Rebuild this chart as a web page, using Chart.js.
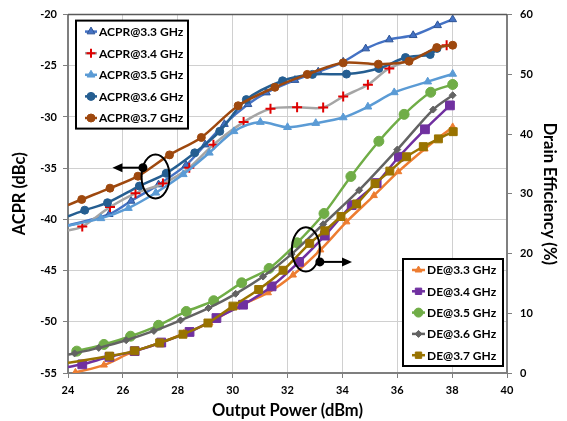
<!DOCTYPE html>
<html>
<head>
<meta charset="utf-8">
<script src="https://cdn.jsdelivr.net/npm/chart.js@4/dist/chart.umd.min.js"></script>
<style>
  html, body { margin: 0; padding: 0; background: #ffffff; }
  #wrap { width: 567px; height: 421px; position: relative; }
</style>
</head>
<body>
<div id="wrap"><canvas id="c" width="567" height="421"></canvas></div>
<script>
// ---- Axis ranges ----
const poutRange = [24, 40];
const acprRange = [-55, -20];
const deRange = [0, 60];

// ---- ACPR (dBc) versus output power (dBm) ----
const acpr33Pout = [24.0, 25.5, 26.3, 27.3, 28.3, 29.0, 29.7, 30.56, 31.23, 32.27, 33.12, 34.03, 34.85, 35.71, 36.58, 37.47, 38.02];
const acpr33 = [-40.6, -39.5, -38.2, -36.6, -34.7, -32.7, -30.7, -28.76, -27.62, -26.4, -25.58, -24.61, -23.32, -22.44, -22.02, -21.05, -20.47];

const acpr34Pout = [24.0, 24.52, 25.53, 26.46, 27.46, 28.42, 29.3, 30.4, 31.38, 32.35, 33.3, 34.03, 34.93, 35.71, 37.8];
const acpr34 = [-41.1, -40.7, -38.8, -37.45, -36.5, -34.95, -32.7, -30.5, -29.2, -29.05, -29.08, -28.0, -26.85, -25.26, -23.0];

const acpr35Pout = [24.0, 25.2, 26.2, 27.2, 28.2, 29.15, 30.05, 31.01, 32.0, 33.03, 34.03, 34.93, 35.89, 37.11, 38.02];
const acpr35 = [-40.6, -39.9, -38.9, -37.4, -35.6, -33.5, -31.4, -30.5, -31.0, -30.6, -30.05, -29.0, -27.6, -26.55, -25.8];

const acpr36Pout = [24.0, 24.61, 25.44, 26.6, 27.58, 28.62, 29.53, 30.5, 31.82, 32.91, 34.15, 35.33, 36.3, 37.2, 37.45];
const acpr36 = [-39.7, -39.1, -38.37, -36.75, -35.5, -33.5, -31.4, -28.3, -26.46, -25.84, -25.81, -25.26, -24.19, -23.9, -23.3];

const acpr37Pout = [24.0, 24.5, 25.53, 26.55, 27.7, 28.86, 30.2, 31.54, 32.72, 34.03, 35.31, 36.43, 37.44, 38.02];
const acpr37 = [-38.6, -38.05, -36.95, -35.78, -33.7, -32.0, -28.9, -27.1, -25.84, -24.71, -24.84, -24.55, -23.22, -22.99];

// ---- Drain efficiency (%) versus output power (dBm) ----
const de33Pout = [24.27, 25.31, 26.31, 27.3, 28.22, 29.16, 30.14, 31.29, 32.2, 33.2, 34.15, 35.15, 36.04, 37.0, 38.02];
const de33 = [0.1, 1.33, 3.44, 4.94, 6.6, 8.37, 11.03, 13.43, 16.4, 20.6, 25.3, 29.7, 33.7, 37.5, 41.2];

const de34Pout = [24.0, 24.52, 25.51, 26.43, 27.4, 28.43, 29.41, 30.38, 31.42, 32.42, 33.36, 34.34, 35.25, 36.06, 37.01, 37.92];
const de34 = [1.0, 1.45, 2.7, 3.66, 5.1, 6.87, 9.2, 11.43, 14.5, 18.6, 23.0, 28.1, 31.8, 36.2, 40.8, 44.8];

const de35Pout = [24.32, 25.31, 26.28, 27.3, 28.31, 29.31, 30.33, 31.33, 32.35, 33.33, 34.31, 35.33, 36.25, 37.22, 38.02];
const de35 = [3.66, 4.78, 6.16, 7.99, 10.3, 12.1, 15.1, 17.5, 21.8, 26.7, 32.9, 38.8, 43.3, 47.0, 48.3];

const de36Pout = [24.0, 24.24, 25.12, 26.12, 27.13, 28.1, 29.12, 30.11, 31.11, 32.15, 33.3, 34.61, 36.0, 37.31, 38.02];
const de36 = [3.1, 3.28, 4.2, 5.49, 7.04, 8.82, 10.87, 13.26, 16.14, 19.9, 24.9, 30.6, 37.4, 44.1, 46.5];

const de37Pout = [24.0, 25.51, 26.43, 27.34, 28.19, 29.1, 30.01, 30.95, 31.84, 32.81, 33.36, 33.95, 34.52, 35.19, 35.73, 36.34, 36.95, 37.5, 38.04];
const de37 = [1.7, 2.83, 3.71, 5.04, 6.49, 8.37, 11.2, 13.98, 17.2, 21.7, 23.8, 26.2, 28.3, 31.7, 33.8, 36.2, 37.9, 39.2, 40.4];

// ---- Series labels ----
const acprLabels = ['ACPR@3.3 GHz', 'ACPR@3.4 GHz', 'ACPR@3.5 GHz', 'ACPR@3.6 GHz', 'ACPR@3.7 GHz'];
const deLabels = ['DE@3.3 GHz', 'DE@3.4 GHz', 'DE@3.5 GHz', 'DE@3.6 GHz', 'DE@3.7 GHz'];

const FONT = 'Lato, "Open Sans", "Liberation Sans", sans-serif';

function pts(xs, ys) { return xs.map((x, i) => ({ x: x, y: ys[i] })); }

// line colour, marker style, marker fill, marker border, radius
const acprStyles = [
  { line: '#4472C4', style: 'triangle', fill: '#4472C4', border: '#2F5597', r: 4.5, bw: 1 },
  { line: '#A5A5A5', style: 'cross',    fill: '#E00000', border: '#E00000', r: 5,   bw: 2 },
  { line: '#5B9BD5', style: 'triangle', fill: '#5B9BD5', border: '#5B9BD5', r: 4.5, bw: 1 },
  { line: '#255E91', style: 'circle',   fill: '#255E91', border: '#255E91', r: 4,   bw: 1 },
  { line: '#9E480E', style: 'circle',   fill: '#9E480E', border: '#9E480E', r: 4,   bw: 1 }
];
const deStyles = [
  { line: '#ED7D31', style: 'triangle', fill: '#ED7D31', border: '#ED7D31', r: 4,   bw: 1 },
  { line: '#7030A0', style: 'rect',     fill: '#7030A0', border: '#7030A0', r: 6.2, bw: 1 },
  { line: '#70AD47', style: 'circle',   fill: '#70AD47', border: '#70AD47', r: 5,   bw: 1 },
  { line: '#636363', style: 'rectRot',  fill: '#636363', border: '#636363', r: 3.5, bw: 1 },
  { line: '#997300', style: 'rect',     fill: '#997300', border: '#997300', r: 5.6, bw: 1 }
];

const acprSeries = [pts(acpr33Pout, acpr33), pts(acpr34Pout, acpr34), pts(acpr35Pout, acpr35), pts(acpr36Pout, acpr36), pts(acpr37Pout, acpr37)];
const deSeries = [pts(de33Pout, de33), pts(de34Pout, de34), pts(de35Pout, de35), pts(de36Pout, de36), pts(de37Pout, de37)];

function makeDataset(label, data, st, axis, order) {
  return {
    label: label,
    data: data,
    yAxisID: axis,
    borderColor: st.line,
    backgroundColor: st.fill,
    borderWidth: 2.5,
    tension: 0.3,
    pointStyle: st.style,
    // points that sit on the left axis edge are line starts only
    pointRadius: (ctx) => (ctx.raw && ctx.raw.x <= poutRange[0] ? 0 : st.r),
    pointHoverRadius: 0,
    pointBackgroundColor: st.fill,
    pointBorderColor: st.border,
    pointBorderWidth: st.bw,
    order: order
  };
}

const datasets = [];
acprSeries.forEach((d, i) => datasets.push(makeDataset(acprLabels[i], d, acprStyles[i], 'yAcpr', 20 - i)));
deSeries.forEach((d, i) => datasets.push(makeDataset(deLabels[i], d, deStyles[i], 'yDe', 10 - i)));

function drawMarker(ctx, st, x, y) {
  ctx.save();
  ctx.fillStyle = st.fill;
  ctx.strokeStyle = st.border;
  ctx.lineWidth = st.bw;
  Chart.helpers.drawPoint(ctx, { pointStyle: st.style, radius: st.r, rotation: 0, borderWidth: st.bw }, x, y);
  ctx.restore();
}

function drawLegendBox(ctx, left, top, w, h, labels, styles, rowGap, sampleLen) {
  ctx.save();
  ctx.fillStyle = '#ffffff';
  ctx.fillRect(left, top, w, h);
  ctx.strokeStyle = '#000000';
  ctx.lineWidth = 2;
  ctx.strokeRect(left, top, w, h);
  ctx.font = 'bold 12px ' + FONT;
  ctx.textBaseline = 'middle';
  ctx.textAlign = 'left';
  labels.forEach((lab, i) => {
    const y = top + 11 + i * rowGap;
    const x0 = left + 9;
    const st = styles[i];
    ctx.strokeStyle = st.line;
    ctx.lineWidth = 2.5;
    ctx.beginPath();
    ctx.moveTo(x0, y);
    ctx.lineTo(x0 + sampleLen, y);
    ctx.stroke();
    drawMarker(ctx, Object.assign({}, st, { r: Math.min(st.r, 4.5) }), x0 + sampleLen / 2, y);
    ctx.fillStyle = '#000000';
    ctx.fillText(lab, x0 + sampleLen + 2, y + 0.5);
  });
  ctx.restore();
}

function drawArrow(ctx, x1, y, x2) {
  const dir = Math.sign(x2 - x1);
  ctx.beginPath();
  ctx.moveTo(x1, y);
  ctx.lineTo(x2 - dir * 8, y);
  ctx.stroke();
  ctx.beginPath();
  ctx.moveTo(x2, y);
  ctx.lineTo(x2 - dir * 10, y - 4.5);
  ctx.lineTo(x2 - dir * 10, y + 4.5);
  ctx.closePath();
  ctx.fill();
}

const decorations = {
  id: 'decorations',
  afterDatasetsDraw(chart) {
    const { ctx, chartArea: a, scales } = chart;
    const sx = scales.x, sa = scales.yAcpr, sd = scales.yDe;

    ctx.save();
    // plot frame
    ctx.strokeStyle = '#595959';
    ctx.lineWidth = 1.5;
    ctx.beginPath();
    ctx.moveTo(a.left, a.top);
    ctx.lineTo(a.right, a.top);
    ctx.stroke();

    ctx.strokeStyle = '#000000';
    ctx.fillStyle = '#000000';
    ctx.lineWidth = 2;

    // ACPR group marker: ellipse, dot and arrow to the left axis
    const e1x = sx.getPixelForValue(27.19), e1y = sa.getPixelForValue(-35.8);
    const e1rx = sx.getPixelForValue(27.19 + 0.51) - e1x;
    const e1ry = sa.getPixelForValue(-35.8 - 2.15) - e1y;
    ctx.beginPath();
    ctx.ellipse(e1x, e1y, e1rx, e1ry, 0, 0, Math.PI * 2);
    ctx.stroke();
    const d1x = sx.getPixelForValue(26.73), d1y = sa.getPixelForValue(-34.95);
    ctx.beginPath(); ctx.arc(d1x, d1y, 4.5, 0, Math.PI * 2); ctx.fill();
    drawArrow(ctx, d1x, d1y, sx.getPixelForValue(25.62));

    // DE group marker: ellipse, dot and arrow to the right axis
    const e2x = sx.getPixelForValue(32.67), e2y = sd.getPixelForValue(20.7);
    const e2rx = sx.getPixelForValue(32.67 + 0.51) - e2x;
    const e2ry = sd.getPixelForValue(20.7 - 3.7) - e2y;
    ctx.beginPath();
    ctx.ellipse(e2x, e2y, e2rx, e2ry, 0, 0, Math.PI * 2);
    ctx.stroke();
    const d2x = sx.getPixelForValue(33.18), d2y = sd.getPixelForValue(18.6);
    ctx.beginPath(); ctx.arc(d2x, d2y, 4.5, 0, Math.PI * 2); ctx.fill();
    drawArrow(ctx, d2x, d2y, sx.getPixelForValue(34.35));
    ctx.restore();

    // legends
    drawLegendBox(ctx, a.left + 8, a.top + 6, 112, 108, acprLabels, acprStyles, 21.6, 12);
    drawLegendBox(ctx, a.right - 104, a.bottom - 114, 100, 107, deLabels, deStyles, 21.3, 13);
  }
};

const tickFont = { family: FONT, size: 11, weight: 'bold' };
const titleFont = { family: FONT, size: 16.5, weight: 'bold', lineHeight: 1.2 };

new Chart(document.getElementById('c'), {
  type: 'line',
  data: { datasets: datasets },
  plugins: [decorations],
  options: {
    responsive: false,
    animation: false,
    events: [],
    layout: { padding: { top: 12, left: 0, right: 0, bottom: 0 } },
    plugins: { legend: { display: false }, tooltip: { enabled: false } },
    scales: {
      x: {
        type: 'linear',
        min: poutRange[0], max: poutRange[1],
        ticks: { stepSize: 2, color: '#000000', font: tickFont, padding: 6 },
        grid: { color: '#d0d0d0', borderDash: [3, 3], tickLength: 5, tickColor: '#7f7f7f', tickBorderDash: [] },
        border: { display: true, color: '#7f7f7f', width: 2, dash: [] },
        title: { display: true, text: 'Output Power (dBm)', color: '#000000', font: titleFont, padding: { top: 0, bottom: 0 } },
        afterFit(scale) { scale.height = 48; }
      },
      yAcpr: {
        type: 'linear', position: 'left',
        min: acprRange[0], max: acprRange[1],
        ticks: { stepSize: 5, color: '#000000', font: tickFont, padding: 6 },
        grid: { color: '#d0d0d0', borderDash: [3, 3], tickLength: 5, tickColor: '#7f7f7f', tickBorderDash: [] },
        border: { display: true, color: '#7f7f7f', width: 2 },
        title: { display: true, text: 'ACPR (dBc)', color: '#000000', font: titleFont, padding: { top: 10, bottom: 0 } },
        afterFit(scale) { scale.width = 68; }
      },
      yDe: {
        type: 'linear', position: 'right',
        min: deRange[0], max: deRange[1],
        ticks: { stepSize: 10, color: '#000000', font: tickFont, padding: 8 },
        grid: { drawOnChartArea: false, tickLength: 5, tickColor: '#7f7f7f' },
        border: { display: true, color: '#7f7f7f', width: 2 },
        title: { display: true, text: 'Drain Efficiency (%)', color: '#000000', font: titleFont, padding: { top: 8, bottom: 0 } },
        afterFit(scale) { scale.width = 60; }
      }
    }
  }
});
</script>
</body>
</html>
